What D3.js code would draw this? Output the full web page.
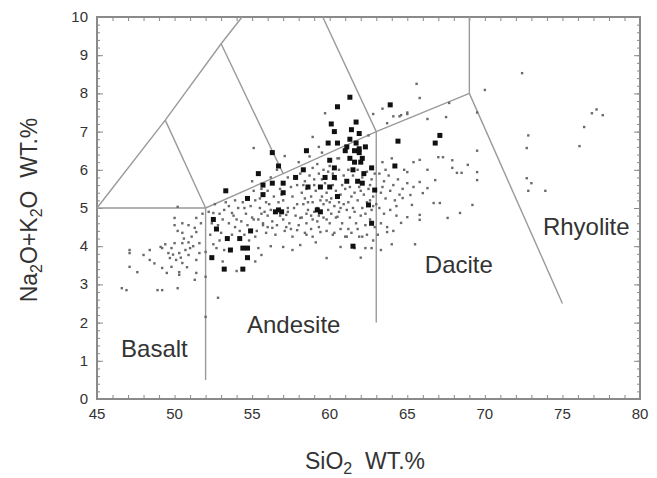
<!DOCTYPE html>
<html><head><meta charset="utf-8">
<script src="https://cdn.jsdelivr.net/npm/d3@7"></script>
<style>body{margin:0;background:#fff}svg{display:block}text{font-family:"Liberation Sans",Arial,sans-serif}</style>
</head><body>
<svg id="c" width="657" height="478"></svg>
<script>
// ---- data ----
const xTickLabels = [45,50,55,60,65,70,75,80];
const yTickLabels = [0,1,2,3,4,5,6,7,8,9,10];
const fieldNames = ["Basalt","Andesite","Dacite","Rhyolite"];
const fieldLabelPos = [[46.55,1.1],[54.67,1.73],[66.13,3.3],[73.74,4.29]];
// TAS field boundaries [SiO2, Na2O+K2O]
const boundaries = [
  [[45,5],[52,5]],
  [[52,0.5],[52,5]],
  [[52,5],[57,5.9],[63,7],[69,8]],
  [[63,2],[63,7]],
  [[69,8],[69,10]],
  [[69,8],[75,2.5]],
  [[45,5],[49.4,7.3],[53,9.3],[54.35,10]],
  [[49.4,7.3],[52,5]],
  [[53,9.3],[57,5.9]],
  [[59.55,10],[63,7]]
];
// large filled squares
const bigSamples = [
[61.3,7.9],[60.5,7.65],[63.9,7.7],[60.1,7.2],[61.7,7.25],[60.3,7.0],[61.4,7.05],[61.9,6.95],
[59.9,6.7],[60.5,6.7],[61.3,6.8],[61.6,6.5],[61.9,6.45],[58.5,6.5],[64.4,6.75],[61.1,6.6],
[62.1,6.3],[61.3,6.3],[60.0,6.25],[60.3,6.05],[58.3,6.0],[61.5,6.0],[62.0,6.2],[62.7,6.05],
[64.2,6.1],[59.7,5.8],[60.3,5.8],[61.1,5.7],[61.8,5.7],[60.0,5.55],[59.4,5.55],
[67.1,6.9],[66.8,6.7],[61.0,6.5],[62.3,6.6],[61.7,6.7],[62.2,5.9],[61.6,6.2],[61.9,6.55],
[56.3,6.45],[56.7,6.1],[55.4,5.9],[53.3,5.45],[55.7,5.6],[56.3,5.65],[57.0,5.65],[57.8,5.8],
[55.7,5.35],[54.7,5.25],[57.0,5.4],[52.5,4.7],[56.5,4.9],[56.9,4.9],[56.7,4.95],[52.7,4.45],[54.9,4.4],
[53.4,4.2],[54.2,4.2],[53.6,3.9],[54.4,3.95],[54.7,3.95],[52.4,3.7],[54.7,3.7],[53.2,3.4],
[54.4,3.4],[61.5,4.0],[59.4,4.9],[59.2,4.95],[62.5,5.08],[62.7,4.6],[62.1,5.65],[62.9,5.47],[60.5,5.3],[58.6,5.55]
];
// small samples
const smallSamples = [
// basalt field
[50.2,5.03],[50.0,4.74],[50.5,4.6],[50.9,4.55],[50.0,4.55],[50.5,4.35],[51.4,4.74],[51.3,4.48],[51.4,4.37],
[51.1,4.25],[50.9,4.1],[50.5,4.08],[50.0,4.08],[49.8,3.95],[49.6,3.82],[49.7,3.69],[50.1,3.64],[50.3,3.82],
[50.7,3.9],[50.9,3.77],[50.5,3.56],[49.8,3.46],[49.2,3.43],[49.5,3.3],[50.3,3.32],[51.4,3.3],[51.3,3.12],
[49.1,3.98],[49.2,3.95],[48.4,3.9],[48.0,3.77],[48.4,3.64],[47.1,3.9],[47.1,3.82],[47.6,3.32],[47.1,3.46],
[46.6,2.9],[46.9,2.85],[48.9,2.85],[49.2,2.85],[50.2,2.9],[50.3,3.25],[51.4,3.64],[51.6,3.82],[51.6,4.08],
[51.0,3.95],[51.7,4.6],[51.8,4.85],[52.0,3.2],[52.0,2.15],[52.8,2.65],[52.0,3.85],[50.6,4.2],[50.2,4.4],
[49.4,4.05],[50.8,3.45],[49.9,3.78],[51.2,4.0],[48.7,3.55],[50.4,3.7],
// 52-55
[52.2,4.9],[52.6,5.1],[52.9,4.85],[53.2,4.95],[53.5,5.05],[53.8,4.8],[54.1,5.0],[54.4,5.15],[54.6,4.85],
[54.9,5.05],[52.4,4.6],[52.8,4.55],[53.1,4.7],[53.5,4.6],[53.9,4.5],[54.3,4.65],[54.7,4.55],[55.0,4.75],
[52.3,4.3],[53.0,4.35],[53.7,4.3],[54.5,4.3],[52.5,4.05],[53.2,3.9],[55.2,4.25],[52.5,4.87],[53.7,4.87],
[54.0,4.7],[55.1,4.7],[53.3,5.15],[54.2,4.4],[52.9,4.15],[54.8,4.15],[53.9,5.2],[54.5,5.0],[52.7,3.95],
// 55-58
[55.2,5.2],[55.5,5.0],[55.8,4.9],[56.1,5.1],[56.4,5.3],[56.7,5.15],[57.0,5.2],[57.3,5.0],[57.6,5.3],
[57.9,5.1],[55.4,4.7],[55.7,4.6],[56.0,4.8],[56.3,4.65],[56.6,4.55],[57.0,4.7],[57.4,4.6],[57.8,4.8],
[55.3,4.4],[55.9,4.35],[56.5,4.3],[57.1,4.4],[57.6,4.25],[58.0,4.55],[55.6,5.5],[56.0,5.45],[56.8,5.5],
[57.5,5.55],[57.9,5.6],[56.2,5.8],[55.1,5.45],[57.3,5.8],[56.6,6.0],[55.0,5.7],[55.7,4.55],[56.3,4.48],
[57.2,4.5],[57.9,4.42],[57.2,4.82],[58.1,4.74],[55.5,5.25],[56.2,4.95],[56.9,5.35],[57.7,5.0],[55.9,5.15],
[57.3,4.9],[56.8,4.8],[55.6,4.85],[57.5,4.45],[56.0,4.5],
// 58-61
[58.1,5.9],[58.4,5.7],[58.7,5.85],[59.0,5.75],[59.3,5.9],[59.6,6.0],[59.9,5.95],[60.2,5.9],[60.6,6.0],
[60.9,5.85],[58.2,5.4],[58.5,5.5],[58.8,5.3],[59.1,5.45],[59.5,5.3],[59.8,5.4],[60.1,5.25],[60.4,5.45],
[60.7,5.35],[61.0,5.5],[58.3,5.1],[58.6,4.95],[58.9,5.15],[59.2,5.0],[59.6,5.1],[59.9,4.95],[60.3,5.05],
[60.6,4.9],[60.9,5.1],[58.2,4.75],[58.5,4.6],[58.8,4.8],[59.2,4.65],[59.6,4.75],[60.0,4.6],[60.4,4.75],
[60.8,4.6],[58.4,4.35],[58.8,4.45],[59.3,4.5],[59.8,4.4],[60.3,4.35],[60.7,4.45],[61.0,4.25],[58.0,6.2],
[59.2,6.15],[60.5,6.3],[58.7,6.35],[59.5,6.45],[58.9,4.7],[59.8,4.7],[60.5,4.77],[58.5,4.3],[58.9,4.25],
[59.4,4.37],[60.2,4.3],[61.1,4.25],[59.0,5.6],[59.7,5.65],[60.8,5.6],[58.4,5.25],[60.0,5.15],
[58.3,5.6],[59.4,5.2],[60.2,5.6],[60.6,5.15],[59.0,4.9],[59.8,5.2],[58.6,5.15],[60.1,4.85],[59.5,5.75],
[60.4,5.75],[58.9,6.05],[60.0,6.1],[58.5,4.85],[59.3,4.8],[60.7,5.0],
// 61-63
[61.2,6.0],[61.5,5.85],[61.8,6.0],[62.1,5.8],[62.4,5.95],[62.7,5.75],[62.9,5.9],[61.3,5.55],[61.6,5.4],
[61.9,5.55],[62.2,5.35],[62.5,5.5],[62.8,5.3],[61.2,5.15],[61.5,5.0],[61.8,5.2],[62.1,5.0],[62.4,5.15],
[62.7,4.95],[63.0,5.1],[61.3,4.75],[61.7,4.6],[62.0,4.8],[62.3,4.55],[62.6,4.7],[62.9,4.5],[61.4,4.35],
[61.9,4.25],[62.4,4.3],[62.8,4.15],[61.6,3.95],[62.1,4.25],[61.2,4.45],[62.6,5.2],[61.4,5.3],[62.0,5.45],
[62.6,5.6],[61.6,4.9],[62.3,4.85],[61.1,4.95],[62.8,5.05],[61.8,4.45],
// 63-66
[63.2,5.9],[63.5,5.7],[63.8,5.85],[64.1,5.6],[64.4,5.75],[64.7,5.5],[65.0,5.65],[63.3,5.4],[63.6,5.25],
[63.9,5.45],[64.2,5.2],[64.5,5.35],[63.2,5.0],[63.5,4.85],[63.9,4.95],[64.3,4.8],[63.3,4.6],[63.7,4.5],
[64.1,4.4],[63.1,4.3],[63.4,6.2],[64.0,6.3],[64.8,6.0],[63.7,4.37],[63.4,5.55],[64.3,5.05],[63.6,6.0],
// 64-70
[67.0,6.33],[67.3,6.33],[67.9,6.25],[68.9,6.13],[67.9,6.05],[68.2,5.92],[68.5,5.92],[69.5,5.94],[69.5,5.73],
[66.3,6.0],[65.8,6.26],[65.4,6.2],[65.0,5.94],[66.8,5.73],[65.8,5.68],[66.3,5.52],[65.4,5.55],[66.0,5.39],
[65.2,5.34],[64.7,5.26],[66.7,5.13],[67.1,5.13],[65.3,5.08],[69.2,5.08],[68.4,4.87],[67.6,4.74],[65.8,4.82],
[65.0,4.76],[65.8,4.69],[64.6,4.61],[69.5,6.5],[65.5,4.05],[64.0,4.05],
// lower scatter
[56.2,4.0],[57.0,3.98],[57.6,3.9],[58.1,4.03],[59.8,3.69],[60.7,3.98],[55.2,3.6],[55.6,3.77],[55.4,3.95],
[53.1,3.6],[54.0,3.35],[62.3,3.95],[63.3,3.9],[59.1,4.1],[62.0,3.7],[62.7,3.95],
// above alkaline line
[59.7,7.48],[58.9,6.86],[55.1,6.57],[57.1,6.36],[60.6,6.3],[59.3,6.6],[62.5,6.9],[62.8,7.46],[63.4,7.6],
[63.7,7.22],[64.1,7.4],[64.5,7.4],[65.0,7.46],[65.6,8.25],[65.8,7.88],[67.7,7.75],[70.0,8.09],[66.3,7.33],
[67.5,7.38],[69.5,7.5],[65.0,7.5],[64.6,7.43],
// rhyolite field
[72.4,8.53],[72.8,6.9],[72.7,6.57],[76.1,6.62],[76.4,7.12],[76.9,7.48],[77.2,7.58],[77.6,7.43],[72.7,5.78],
[73.0,5.65],[72.8,5.45],[73.9,5.45]
];

// ---- chart ----
const svg = d3.select("#c");
const L=97, R=640, T=17, B=399;
const x = d3.scaleLinear().domain([45,80]).range([L,R]);
const y = d3.scaleLinear().domain([0,10]).range([B,T]);
const axisCol = "#8a8a8a";

// ticks (inward) on all four sides
const xMinor = d3.range(45,81,1);
const yMinor = d3.range(0,50.5,1).map(v=>v/5);
function styleAxis(g){g.select(".domain").remove();g.selectAll("line").attr("stroke",axisCol).attr("stroke-width",1);}
svg.append("g").attr("transform",`translate(0,${B})`).call(d3.axisBottom(x).tickValues(xMinor).tickSize(-4).tickFormat("")).call(styleAxis);
svg.append("g").attr("transform",`translate(0,${T})`).call(d3.axisTop(x).tickValues(xMinor).tickSize(-4).tickFormat("")).call(styleAxis);
svg.append("g").attr("transform",`translate(${L},0)`).call(d3.axisLeft(y).tickValues(yMinor).tickSize(-3).tickFormat("")).call(styleAxis);
svg.append("g").attr("transform",`translate(${R},0)`).call(d3.axisRight(y).tickValues(yMinor).tickSize(-3).tickFormat("")).call(styleAxis);
svg.append("g").attr("transform",`translate(${L},0)`).call(d3.axisLeft(y).tickValues(yTickLabels).tickSize(-6).tickFormat("")).call(styleAxis);
svg.append("g").attr("transform",`translate(${R},0)`).call(d3.axisRight(y).tickValues(yTickLabels).tickSize(-6).tickFormat("")).call(styleAxis);

// tick labels
svg.append("g").selectAll("text").data(xTickLabels).join("text")
  .attr("x",d=>x(d)).attr("y",B+20).attr("text-anchor","middle")
  .attr("font-size",15).attr("fill","#333").text(d=>d);
svg.append("g").selectAll("text").data(yTickLabels).join("text")
  .attr("x",L-9).attr("y",d=>y(d)+5).attr("text-anchor","end")
  .attr("font-size",15).attr("fill","#333").text(d=>d);

// frame
svg.append("rect").attr("x",L).attr("y",T).attr("width",R-L).attr("height",B-T)
  .attr("fill","none").attr("stroke",axisCol).attr("stroke-width",2);

// boundaries
const line = d3.line().x(d=>x(d[0])).y(d=>y(d[1]));
svg.append("g").selectAll("path").data(boundaries).join("path")
  .attr("d",line).attr("fill","none").attr("stroke","#9a9a9a").attr("stroke-width",1.4);

// field labels
svg.append("g").selectAll("text").data(fieldNames).join("text")
  .attr("x",(d,i)=>x(fieldLabelPos[i][0])).attr("y",(d,i)=>y(fieldLabelPos[i][1]))
  .attr("font-size",24).attr("fill","#333").text(d=>d);

// samples
const s1=2.4, s2=5;
svg.append("g").selectAll("rect").data(smallSamples).join("rect")
  .attr("x",d=>x(d[0])-s1/2).attr("y",d=>y(d[1])-s1/2).attr("width",s1).attr("height",s1)
  .attr("fill","#6a6a6a");
svg.append("g").selectAll("rect").data(bigSamples).join("rect")
  .attr("x",d=>x(d[0])-s2/2).attr("y",d=>y(d[1])-s2/2).attr("width",s2).attr("height",s2)
  .attr("fill","#111");

// axis titles
const xt = svg.append("text").attr("x",365).attr("y",469).attr("text-anchor","middle")
  .attr("font-size",23).attr("fill","#333");
xt.append("tspan").text("SiO");
xt.append("tspan").attr("font-size",16).attr("dy",5).text("2");
xt.append("tspan").attr("dy",-5).text("\u00a0\u00a0WT.%");

const yt = svg.append("text").attr("transform","translate(37,210) rotate(-90)").attr("text-anchor","middle")
  .attr("font-size",23).attr("fill","#333");
yt.append("tspan").text("Na");
yt.append("tspan").attr("font-size",16).attr("dy",5).text("2");
yt.append("tspan").attr("dy",-5).text("O+K");
yt.append("tspan").attr("font-size",16).attr("dy",5).text("2");
yt.append("tspan").attr("dy",-5).text("O\u00a0\u00a0WT.%");
</script>
</body></html>
